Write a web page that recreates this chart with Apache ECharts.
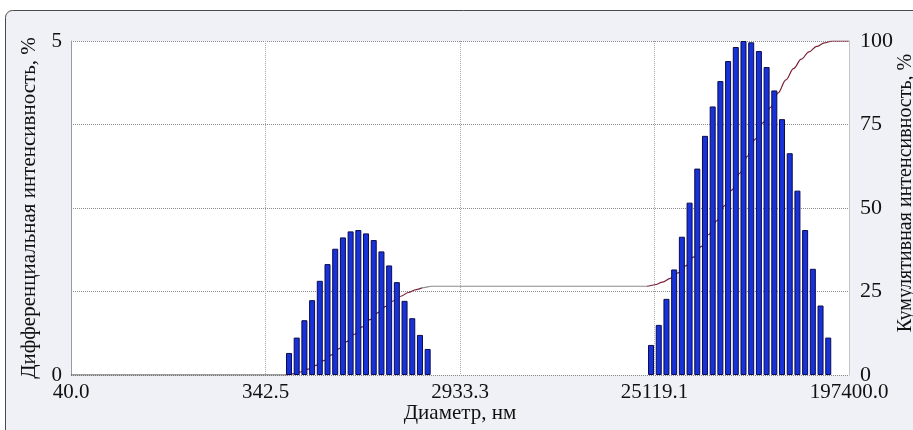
<!DOCTYPE html>
<html>
<head>
<meta charset="utf-8">
<script src="https://cdn.jsdelivr.net/npm/echarts@6/dist/echarts.min.js"></script>
<style>
  html, body { margin: 0; padding: 0; background: #ffffff; }
  #chart { width: 913px; height: 430px; }
</style>
</head>
<body>
<div id="chart"></div>
<script>
// Tick labels of the logarithmic diameter axis (nm)
const xTickLabels = ['40.0', '342.5', '2933.3', '25119.1', '197400.0'];
const yLeftMax = 5;
const yRightTicks = [0, 25, 50, 75, 100];

// Fine fraction: bin centre diameters (nm) and differential intensity (%)
const fineDiameters = [433.4, 471.5, 512.9, 558.0, 607.0, 660.3, 718.3, 781.4, 850.1, 924.8,
  1006.0, 1094.4, 1190.6, 1295.2, 1409.0, 1532.8, 1667.5, 1814.0, 1973.4];
const fineIntensity = [0.33, 0.56, 0.82, 1.12, 1.41, 1.66, 1.89, 2.06, 2.15, 2.17,
  2.12, 2.02, 1.85, 1.64, 1.39, 1.11, 0.85, 0.60, 0.39];

// Coarse fraction
const coarseDiameters = [22679, 24672, 26839, 29197, 31763, 34553, 37589, 40892, 44485, 48393,
  52645, 57270, 62302, 67776, 73731, 80209, 87256, 94922, 103262, 112335,
  122204, 132941, 144621, 157327];
const coarseIntensity = [0.45, 0.75, 1.14, 1.58, 2.07, 2.58, 3.09, 3.58, 4.02, 4.40,
  4.70, 4.91, 5.00, 4.98, 4.85, 4.61, 4.26, 3.83, 3.32, 2.76,
  2.17, 1.59, 1.04, 0.56];

// Axis position: the range is split into equal logarithmic intervals, one per tick label
const dMin = parseFloat(xTickLabels[0]);
const dMax = parseFloat(xTickLabels[xTickLabels.length - 1]);
const nIntervals = xTickLabels.length - 1;
const logSpan = Math.log10(dMax / dMin);
const toAxis = d => Math.log10(d / dMin) / logSpan * nIntervals;

const peaks = [
  { d: fineDiameters, v: fineIntensity },
  { d: coarseDiameters, v: coarseIntensity }
];

// Bars
const barData = [];
peaks.forEach(p => p.d.forEach((d, i) => barData.push([toAxis(d), p.v[i]])));

// Cumulative intensity, normalised to 100 %, sampled at bin edges
const total = peaks.reduce((s, p) => s + p.v.reduce((a, b) => a + b, 0), 0);
const cumData = [[0, 0]];
let running = 0;
const edges = [];
peaks.forEach(p => {
  const u = p.d.map(toAxis);
  const half = i => (i < u.length - 1 ? u[i + 1] - u[i] : u[i] - u[i - 1]) / 2;
  const left = u[0] - half(0);
  cumData.push([left, running / total * 100]);
  u.forEach((x, i) => {
    running += p.v[i];
    cumData.push([x + half(i), running / total * 100]);
  });
  edges.push([left, u[u.length - 1] + half(u.length - 1)]);
});
cumData.push([nIntervals, 100]);

const serif = 'Liberation Serif';
const chart = echarts.init(document.getElementById('chart'), null, { renderer: 'canvas' });
chart.setOption({
  animation: false,
  backgroundColor: '#ffffff',
  graphic: [{
    type: 'rect',
    z: -10,
    shape: { x: 5.5, y: 10.5, width: 930, height: 440, r: 7 },
    style: { fill: '#eff1f6', stroke: '#4a4a4a', lineWidth: 1 }
  }],
  grid: {
    left: 71, right: 64, top: 41, bottom: 55,
    outerBoundsMode: 'none',
    containLabel: false,
    show: true, backgroundColor: '#ffffff', borderWidth: 0
  },
  visualMap: {
    show: false,
    type: 'piecewise',
    seriesIndex: 1,
    dimension: 0,
    pieces: [
      { lt: edges[0][0], color: '#3a3a3a' },
      { gte: edges[0][0], lt: edges[0][1] - 0.05, color: '#7a2236' },
      { gte: edges[0][1] - 0.05, lt: edges[1][0], color: '#8c8c8c' },
      { gte: edges[1][0], color: '#7a2236' }
    ]
  },
  xAxis: {
    type: 'value',
    min: 0, max: nIntervals, interval: 1,
    name: 'Диаметр, нм',
    nameLocation: 'middle',
    nameGap: 28,
    nameMoveOverlap: false,
    nameTextStyle: { fontFamily: serif, fontSize: 21, color: '#111' },
    axisLine: { show: false },
    axisTick: { show: false },
    axisLabel: {
      fontFamily: serif, fontSize: 21, color: '#111', margin: 7,
      formatter: v => xTickLabels[Math.round(v)]
    },
    splitLine: { show: true, lineStyle: { color: '#aaaaaa', type: 'dotted', width: 1 } }
  },
  yAxis: [{
    type: 'value',
    min: 0, max: yLeftMax, interval: yLeftMax,
    name: 'Дифференциальная интенсивность, %',
    nameLocation: 'middle',
    nameGap: 31,
    nameMoveOverlap: false,
    nameTextStyle: { fontFamily: serif, fontSize: 21, color: '#111' },
    axisLine: { show: true, lineStyle: { color: '#9a9a9a', width: 1 } },
    axisTick: { show: false },
    axisLabel: { fontFamily: serif, fontSize: 21, color: '#111', margin: 9 },
    splitLine: { show: false }
  }, {
    type: 'value',
    min: yRightTicks[0], max: yRightTicks[yRightTicks.length - 1],
    interval: yRightTicks[1] - yRightTicks[0],
    position: 'right',
    name: 'Кумулятивная интенсивность, %',
    nameLocation: 'middle',
    nameGap: 47,
    nameRotate: 90,
    nameMoveOverlap: false,
    nameTextStyle: { fontFamily: serif, fontSize: 20, color: '#111', padding: [0, 0, 0, 30] },
    axisLine: { show: true, lineStyle: { color: '#c4c4c4', width: 1 } },
    axisTick: { show: false },
    axisLabel: { fontFamily: serif, fontSize: 22, color: '#111', margin: 11 },
    splitLine: { show: true, lineStyle: { color: '#8a8a8a', type: 'dotted', width: 1 } }
  }],
  series: [{
    type: 'bar',
    yAxisIndex: 0,
    data: barData,
    barWidth: 6,
    z: 3,
    itemStyle: { color: '#1632d8', borderColor: '#0b0b4e', borderWidth: 1 }
  }, {
    type: 'line',
    yAxisIndex: 1,
    data: cumData,
    smooth: 0.35,
    smoothMonotone: 'x',
    showSymbol: false,
    z: 2,
    lineStyle: { width: 1.2 }
  }]
});
</script>
</body>
</html>
